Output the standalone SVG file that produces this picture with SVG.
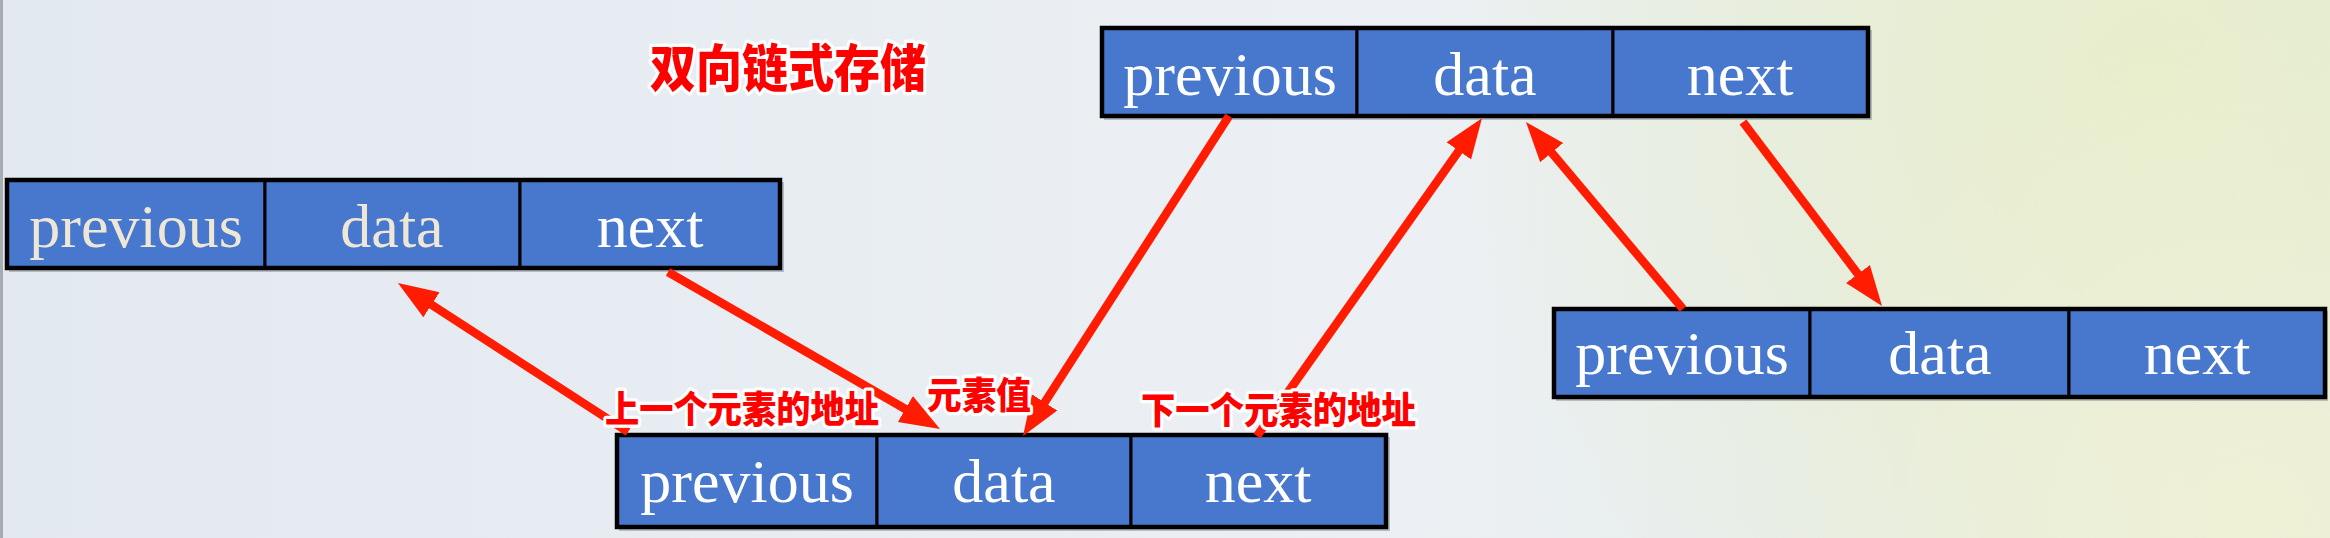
<svg xmlns="http://www.w3.org/2000/svg" width="2330" height="538" viewBox="0 0 2330 538">
<defs>
<radialGradient id="g1" cx="2150" cy="80" r="700" gradientUnits="userSpaceOnUse">
<stop offset="0" stop-color="#E8EECB"/>
<stop offset="1" stop-color="#E8EECB" stop-opacity="0"/>
</radialGradient>
<radialGradient id="g2" cx="2250" cy="520" r="500" gradientUnits="userSpaceOnUse">
<stop offset="0" stop-color="#EFF1D6"/>
<stop offset="1" stop-color="#EFF1D6" stop-opacity="0"/>
</radialGradient>
<linearGradient id="g0" x1="0" y1="0" x2="1" y2="0">
<stop offset="0" stop-color="#E3E9F0"/>
<stop offset="0.6" stop-color="#ECF0F4"/>
<stop offset="1" stop-color="#E2EADF"/>
</linearGradient>
<marker id="ah" markerUnits="userSpaceOnUse" markerWidth="42" markerHeight="34" refX="28" refY="17" orient="auto">
<path d="M0,2 L40,17 L0,32 Z" fill="#FF1C00"/>
</marker>
<style>
.cell{fill:#4878CE;stroke:#000;stroke-width:3}
.frame{fill:none;stroke:#000;stroke-width:4.5}
.shadow{fill:#7A7F88;opacity:0.45}
.t{font-family:"Liberation Serif","DejaVu Serif",serif;font-size:62px;fill:#FFFFFF;text-anchor:middle}
.tc{fill:#EEE7D6}
.arr{stroke:#FF1C00;stroke-width:8.5;fill:none;marker-end:url(#ah)}
.lbl{font-family:"Noto Sans CJK SC","Noto Sans CJK JP",sans-serif;font-weight:900;fill:#FF0000;stroke:#FFFFFF;stroke-width:6;stroke-linejoin:round;paint-order:stroke}
</style>
</defs>
<rect x="0" y="0" width="2330" height="538" fill="url(#g0)"/>
<rect x="0" y="0" width="2330" height="538" fill="url(#g1)"/>
<rect x="0" y="0" width="2330" height="538" fill="url(#g2)"/>
<rect x="0" y="0" width="3" height="538" fill="#A8ACB0"/>

<text class="lbl" x="650" y="79" font-size="46" transform="scale(1,1.1)" textLength="276" lengthAdjust="spacingAndGlyphs">双向链式存储</text>

<g id="nodeA">
<rect class="shadow" x="9" y="182" width="775" height="90"/>
<rect class="cell" x="7" y="180" width="258" height="88"/>
<rect class="cell" x="265" y="180" width="255" height="88"/>
<rect class="cell" x="520" y="180" width="260" height="88"/>
<rect class="frame" x="7" y="180" width="773" height="88"/>
<text class="t tc" x="136" y="247">previous</text>
<text class="t tc" x="392" y="247">data</text>
<text class="t" x="650" y="247">next</text>
</g>

<g id="nodeB">
<rect class="shadow" x="1104" y="30" width="768" height="90"/>
<rect class="cell" x="1102" y="28" width="255" height="88"/>
<rect class="cell" x="1357" y="28" width="256" height="88"/>
<rect class="cell" x="1613" y="28" width="255" height="88"/>
<rect class="frame" x="1102" y="28" width="766" height="88"/>
<text class="t" x="1230" y="95">previous</text>
<text class="t" x="1485" y="95">data</text>
<text class="t" x="1740" y="95">next</text>
</g>

<g id="nodeC">
<rect class="shadow" x="619" y="437" width="771" height="94"/>
<rect class="cell" x="617" y="435" width="260" height="92"/>
<rect class="cell" x="877" y="435" width="254" height="92"/>
<rect class="cell" x="1131" y="435" width="255" height="92"/>
<rect class="frame" x="617" y="435" width="769" height="92"/>
<text class="t" x="747" y="502">previous</text>
<text class="t" x="1004" y="502">data</text>
<text class="t" x="1258" y="502">next</text>
</g>

<g id="nodeD">
<rect class="shadow" x="1556" y="311" width="772" height="90"/>
<rect class="cell" x="1554" y="309" width="256" height="88"/>
<rect class="cell" x="1810" y="309" width="259" height="88"/>
<rect class="cell" x="2069" y="309" width="256" height="88"/>
<rect class="frame" x="1554" y="309" width="771" height="88"/>
<text class="t" x="1682" y="374">previous</text>
<text class="t" x="1940" y="374">data</text>
<text class="t" x="2197" y="374">next</text>
</g>

<g id="connectors">
<line class="arr" x1="628" y1="432" x2="408" y2="289.5"/>
<line class="arr" x1="668" y1="272" x2="929.6" y2="423"/>
<line class="arr" x1="1229" y1="116" x2="1029.5" y2="426"/>
<line class="arr" x1="1257" y1="436" x2="1475" y2="128"/>
<line class="arr" x1="1683" y1="309" x2="1533.7" y2="131.2"/>
<line class="arr" x1="1743" y1="122" x2="1874.8" y2="296.4"/>
</g>

<g id="labels">
<text class="lbl" x="605" y="384.5" font-size="34" transform="scale(1,1.1)" textLength="274" lengthAdjust="spacingAndGlyphs">上一个元素的地址</text>
<text class="lbl" x="927" y="371.8" font-size="34" transform="scale(1,1.1)" textLength="104" lengthAdjust="spacingAndGlyphs">元素值</text>
<text class="lbl" x="1141" y="385.5" font-size="34" transform="scale(1,1.1)" textLength="275" lengthAdjust="spacingAndGlyphs">下一个元素的地址</text>
</g>
</svg>
